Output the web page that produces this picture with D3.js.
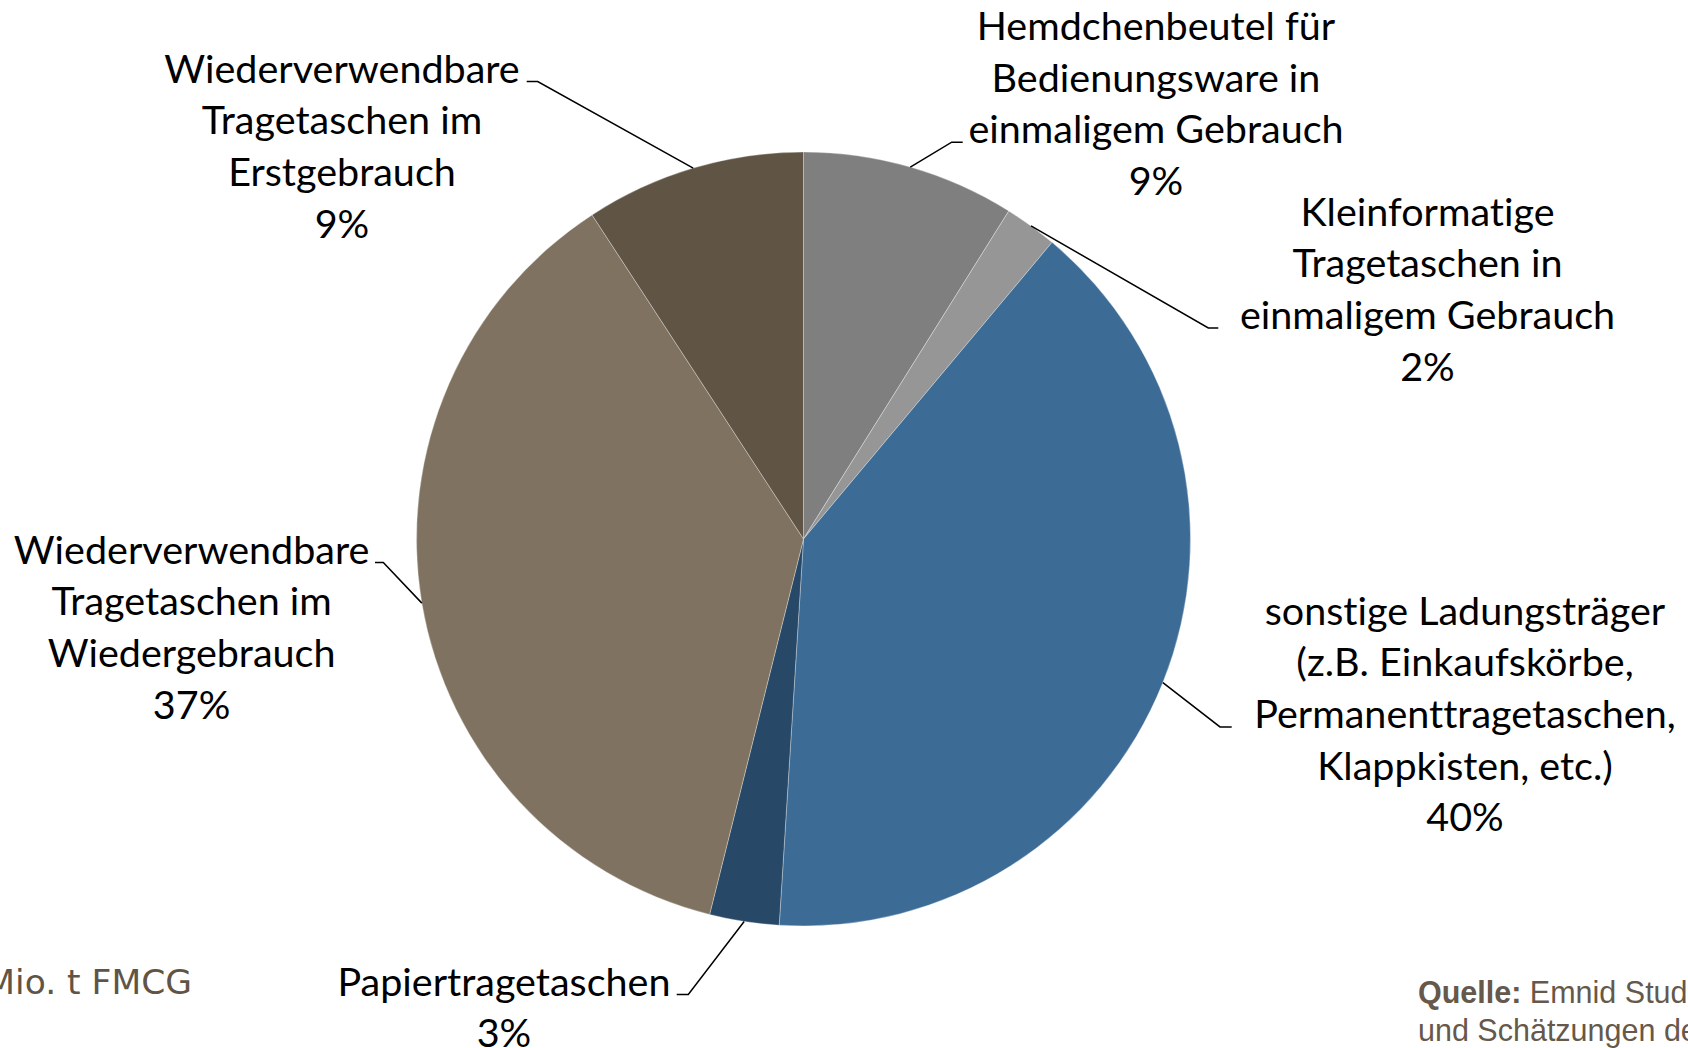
<!DOCTYPE html>
<html>
<head>
<meta charset="utf-8">
<script src="https://cdn.jsdelivr.net/npm/d3@7"></script>
<style>
  html, body { margin: 0; padding: 0; background: #ffffff; overflow: hidden; }
  svg { display: block; }
  text { font-variant-ligatures: none; font-feature-settings: "liga" 0, "clig" 0; }
</style>
</head>
<body>
<svg id="chart" width="1688" height="1048"></svg>
<script>
// ---- data ----
const categories = [
  "Hemdchenbeutel für Bedienungsware in einmaligem Gebrauch",
  "Kleinformatige Tragetaschen in einmaligem Gebrauch",
  "sonstige Ladungsträger (z.B. Einkaufskörbe, Permanenttragetaschen, Klappkisten, etc.)",
  "Papiertragetaschen",
  "Wiederverwendbare Tragetaschen im Wiedergebrauch",
  "Wiederverwendbare Tragetaschen im Erstgebrauch"
];
const labelLines = [
  ["Hemdchenbeutel für", "Bedienungsware in", "einmaligem Gebrauch"],
  ["Kleinformatige", "Tragetaschen in", "einmaligem Gebrauch"],
  ["sonstige Ladungsträger", "(z.B. Einkaufskörbe,", "Permanenttragetaschen,", "Klappkisten, etc.)"],
  ["Papiertragetaschen"],
  ["Wiederverwendbare", "Tragetaschen im", "Wiedergebrauch"],
  ["Wiederverwendbare", "Tragetaschen im", "Erstgebrauch"]
];
const values = [8.9, 2.2, 39.9, 2.9, 36.9, 9.2];
const percentLabels = ["9%", "2%", "40%", "3%", "37%", "9%"];
const colors = ["#7f7f7f", "#969696", "#3c6c95", "#274866", "#807260", "#605545"];

const unitNote = "Mio. t FMCG";
const sourceBold = "Quelle:";
const sourceLines = [" Emnid Studie 2013", "und Schätzungen der GVM"];

// ---- layout ----
const W = 1688, H = 1048;
const cx = 803.5, cy = 539, R = 387;
const lineH = 51.7;
// per-label layout: centre x, first baseline, line index the leader attaches to, elbow x, end x
const labelLayout = [
  { x: 1156,   y: 39.8,  attach: 2, elbowX: 951.7,  endX: 962.7 },
  { x: 1427.5, y: 225.5, attach: 2, elbowX: 1208.3, endX: 1218.3 },
  { x: 1465,   y: 624.5, attach: 2, elbowX: 1220,   endX: 1231.7 },
  { x: 504,    y: 995.5, attach: 0, elbowX: 688.3,  endX: 676.7 },
  { x: 191.6,  y: 563.5, attach: 0, elbowX: 383.3,  endX: 375 },
  { x: 342,    y: 82.5,  attach: 0, elbowX: 537.7,  endX: 526.7 }
];

const svg = d3.select("#chart");
const g = svg.append("g").attr("transform", `translate(${cx},${cy})`);

const pie = d3.pie().sort(null).value(d => d).startAngle(0).endAngle(2 * Math.PI);
const arcs = pie(values);
const arc = d3.arc().innerRadius(0).outerRadius(R);

g.selectAll("path.slice")
  .data(arcs)
  .join("path")
  .attr("class", "slice")
  .attr("d", arc)
  .attr("fill", (d, i) => colors[i])
  .attr("stroke", "rgba(255,255,255,0.4)")
  .attr("stroke-width", 0.8);

// leader lines
const leaders = svg.append("g");
arcs.forEach((d, i) => {
  const a = (d.startAngle + d.endAngle) / 2;
  const sx = cx + R * Math.sin(a), sy = cy - R * Math.cos(a);
  const L = labelLayout[i];
  const ly = L.y + L.attach * lineH - 1;
  leaders.append("polyline")
    .attr("points", `${sx},${sy} ${L.elbowX},${ly} ${L.endX},${ly}`)
    .attr("fill", "none")
    .attr("stroke", "#000")
    .attr("stroke-width", 1.5);
});

// labels
const labels = svg.append("g")
  .attr("font-family", "Lato, 'Open Sans', sans-serif")
  .attr("font-size", 39.5)
  .attr("fill", "#000")
  .attr("text-anchor", "middle");
arcs.forEach((d, i) => {
  const L = labelLayout[i];
  const lines = labelLines[i].concat([percentLabels[i]]);
  const t = labels.append("text").attr("x", L.x).attr("y", L.y);
  lines.forEach((ln, k) => {
    t.append("tspan").attr("x", L.x).attr("y", L.y + k * lineH).text(ln);
  });
});

// unit note (clipped at left edge, as in the original slide)
svg.append("text")
  .attr("x", 192).attr("y", 994)
  .attr("text-anchor", "end")
  .attr("font-family", "'DejaVu Sans', sans-serif")
  .attr("font-size", 34.5)
  .attr("fill", "#5f5445")
  .text(unitNote);

// source (clipped at right edge, as in the original slide)
const src = svg.append("text")
  .attr("x", 1418).attr("y", 1003)
  .attr("font-family", "'Liberation Sans', Arial, sans-serif")
  .attr("font-size", 30.5)
  .attr("fill", "#66584a");
src.append("tspan").attr("font-weight", "bold").text(sourceBold);
src.append("tspan").text(sourceLines[0]);
svg.append("text")
  .attr("x", 1418).attr("y", 1041)
  .attr("font-family", "'Liberation Sans', Arial, sans-serif")
  .attr("font-size", 30.5)
  .attr("fill", "#66584a")
  .text(sourceLines[1]);
</script>
</body>
</html>
